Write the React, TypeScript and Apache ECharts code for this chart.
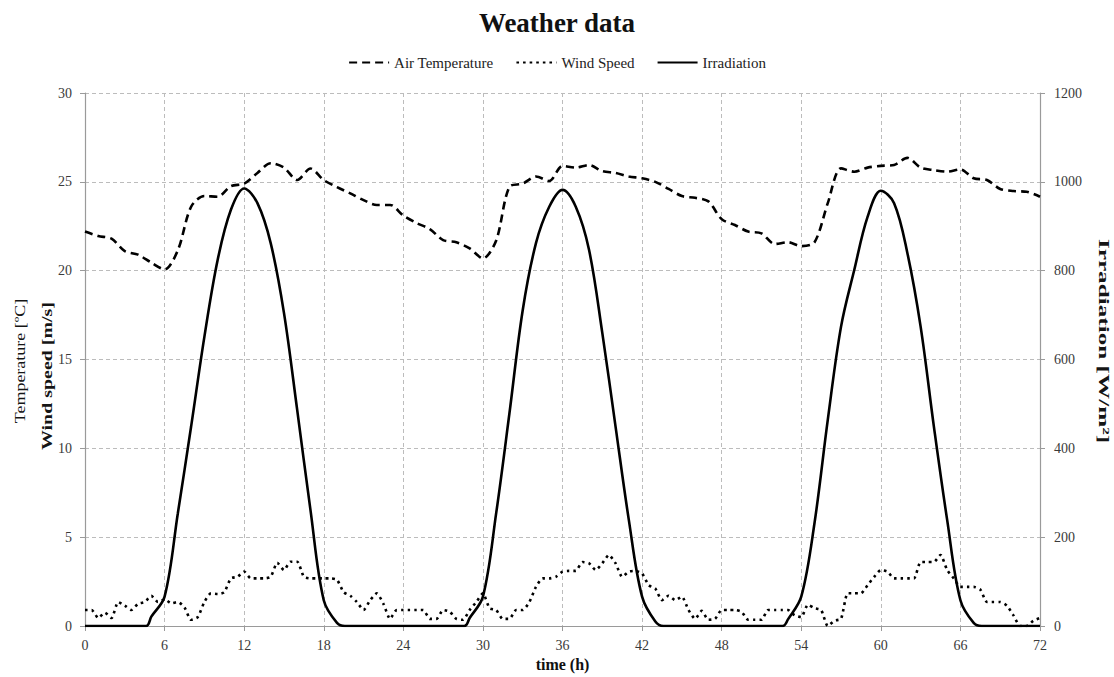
import React, { useEffect, useRef } from "react";
import * as echarts from "echarts";

// Air temperature, hourly 0..72 h
const tempHours = Array.from({ length: 73 }, (_, i) => i);
const airTemperature = [
  22.2, 21.95, 21.8, 21.1, 20.9, 20.45, 20.07, 21.15, 23.6, 24.2, 24.16, 24.76,
  24.9, 25.5, 26.05, 25.8, 25.1, 25.75, 25.1, 24.7, 24.35, 23.97, 23.7, 23.7,
  23.1, 22.68, 22.34, 21.72, 21.6, 21.25, 20.69, 21.7, 24.72, 24.9, 25.3, 25.05,
  25.9, 25.8, 25.95, 25.6, 25.5, 25.3, 25.2, 25.0, 24.6, 24.2, 24.1, 23.9,
  22.9, 22.57, 22.2, 22.1, 21.5, 21.6, 21.38, 21.6, 23.8, 25.76, 25.57, 25.8,
  25.9, 25.95, 26.35, 25.8, 25.66, 25.57, 25.7, 25.2, 25.1, 24.6, 24.48, 24.44,
  24.16,
];

// Wind speed, every half hour 0..72 h
const windHours = Array.from({ length: 145 }, (_, i) => i / 2);
const windSpeed = [
  0.9, 0.9, 0.45, 0.75, 0.45, 1.35, 1.15, 0.9, 1.25, 1.35,
  1.7, 1.35, 1.5, 1.28, 1.35, 1.05, 0.35, 0.5, 1.35, 1.84,
  1.8, 1.9, 2.68, 2.77, 3.06, 2.68, 2.68, 2.68, 2.77, 3.56,
  3.15, 3.62, 3.62, 2.77, 2.68, 2.68, 2.68, 2.68, 2.6, 1.9,
  1.7, 1.35, 0.9, 1.45, 1.84, 1.25, 0.4, 0.9, 0.9,
  0.9, 0.9, 0.9, 0.4, 0.4, 0.9, 0.8, 0.4, 0.35, 0.9,
  1.35, 1.84, 1.0, 0.9, 0.4, 0.4, 0.9, 0.9, 1.35, 2.2,
  2.68, 2.68, 2.77, 3.06, 3.1, 3.1, 3.6, 3.53, 3.15, 3.53,
  4.0, 3.53, 2.77, 3.06, 3.1, 2.95, 2.3, 2.1, 1.45, 1.7,
  1.45, 1.65, 0.9, 0.4, 0.85, 0.35, 0.4, 0.9,
  0.9, 0.9, 0.8, 0.35, 0.35, 0.35, 0.9, 0.9, 0.9, 0.9,
  0.6, 0.5, 1.2, 1.0, 0.9, 0.0, 0.3, 0.4, 1.84, 1.84,
  1.84, 2.3, 2.77, 3.15, 3.06, 2.68, 2.68, 2.68, 2.68, 3.6,
  3.6, 3.6, 4.0, 3.15, 2.68, 2.2, 2.2, 2.2, 2.05, 1.35,
  1.35, 1.35, 1.15, 0.6, 0.0, 0.0, 0.3, 0.45,
];

// Irradiation [W/m2]
const irrHours = [
  0, 4.6, 5, 6, 7, 8, 9, 10, 11, 12, 13, 14, 15, 16, 17, 18, 19, 19.6,
  28.6, 29, 30, 31, 32, 33, 34, 35, 36, 37, 38, 39, 40, 41, 42, 43, 43.6,
  52.6, 53, 54, 55, 56, 57, 58, 59, 60, 61, 62, 63, 64, 65, 66, 67, 67.6, 72,
];
const irradiation = [
  0, 0, 21, 66, 254, 449, 651, 824, 937, 985, 952, 862, 705, 486, 261, 58, 7, 0,
  0, 18, 66, 254, 479, 711, 862, 944, 982, 944, 847, 660, 449, 239, 66, 10, 0,
  0, 15, 66, 232, 464, 674, 802, 921, 980, 952, 840, 674, 449, 239, 58, 7, 0, 0,
];

const FONT = "'Liberation Serif', 'Times New Roman', serif";

export default function App() {
  const ref = useRef<HTMLDivElement>(null);

  useEffect(() => {
    if (!ref.current) return;
    const chart = echarts.init(ref.current, undefined, { renderer: "svg" });
    const gridLine = { show: true, lineStyle: { color: "#bcbcbc", type: [4, 3] as any, width: 1 } };
    const axisLine = { show: true, lineStyle: { color: "#9a9a9a", width: 1.2 } };
    const axisTick = { show: true, length: 5, inside: false, lineStyle: { color: "#9a9a9a" } };
    const label = { color: "#3a3a3a", fontFamily: FONT, fontSize: 14 };

    const vText = (
      text: string,
      x: number,
      y: number,
      rot: number,
      bold: boolean,
      sx: number,
      size: number
    ) => ({
      type: "text",
      x,
      y,
      rotation: rot,
      scaleX: sx,
      scaleY: 1,
      silent: true,
      style: {
        text,
        fontFamily: FONT,
        fontSize: size,
        fontWeight: bold ? "bold" : "normal",
        fill: "#151515",
        textAlign: "center",
        textVerticalAlign: "middle",
        align: "center",
        verticalAlign: "middle",
      },
    });

    chart.setOption({
      animation: false,
      backgroundColor: "#ffffff",
      textStyle: { fontFamily: FONT },
      title: {
        text: "Weather data",
        left: "center",
        top: 4,
        textStyle: { fontFamily: FONT, fontSize: 27, fontWeight: "bold", color: "#111" },
      },
      legend: {
        top: 50,
        left: "center",
        itemWidth: 40,
        itemHeight: 14,
        itemGap: 22,
        itemStyle: { opacity: 0 },
        textStyle: { fontFamily: FONT, fontSize: 15, color: "#222" },
        data: ["Air Temperature", "Wind Speed", "Irradiation"],
      },
      grid: { left: 85, right: 74, top: 93, bottom: 51, containLabel: false, outerBoundsMode: "none" },
      xAxis: {
        type: "value",
        min: 0,
        max: 72,
        interval: 6,
        name: "time (h)",
        nameLocation: "middle",
        nameGap: 25,
        nameTextStyle: { fontFamily: FONT, fontSize: 16, fontWeight: "bold", color: "#111" },
        axisLine,
        axisTick,
        axisLabel: { ...label, margin: 12 },
        splitLine: gridLine,
      },
      yAxis: [
        {
          type: "value",
          min: 0,
          max: 30,
          interval: 5,
          position: "left",
          axisLine,
          axisTick,
          axisLabel: { ...label, margin: 13 },
          splitLine: gridLine,
        },
        {
          type: "value",
          min: 0,
          max: 1200,
          interval: 200,
          position: "right",
          axisLine,
          axisTick,
          axisLabel: { ...label, margin: 14, formatter: (v: number) => String(v) },
          splitLine: { show: false },
        },
      ],
      graphic: [
        vText("Temperature [ºC]", 20, 361, Math.PI / 2, false, 1.2, 15),
        vText("Wind speed [m/s]", 47, 376, Math.PI / 2, true, 1.33, 15),
        vText("Irradiation [W/m²]", 1104, 341, -Math.PI / 2, true, 1.8, 14),
      ],
      series: [
        {
          name: "Air Temperature",
          type: "line",
          yAxisIndex: 0,
          symbol: "none",
          smooth: 0.3,
          data: tempHours.map((h, i) => [h, airTemperature[i]]),
          lineStyle: { color: "#000", width: 2.6, type: [8, 5] as any },
          itemStyle: { color: "#000" },
        },
        {
          name: "Wind Speed",
          type: "line",
          yAxisIndex: 0,
          symbol: "none",
          smooth: 0.2,
          data: windHours.map((h, i) => [h, windSpeed[i]]),
          lineStyle: { color: "#000", width: 2.6, type: [2.6, 4] as any },
          itemStyle: { color: "#000" },
        },
        {
          name: "Irradiation",
          type: "line",
          yAxisIndex: 1,
          symbol: "none",
          smooth: 0.35,
          data: irrHours.map((h, i) => [h, irradiation[i]]),
          lineStyle: { color: "#000", width: 2.6 },
          itemStyle: { color: "#000" },
        },
      ],
    });
    return () => chart.dispose();
  }, []);

  return (
    <div
      ref={ref}
      style={{ position: "fixed", left: 0, top: 0, width: 1114, height: 677, background: "#fff" }}
    />
  );
}
